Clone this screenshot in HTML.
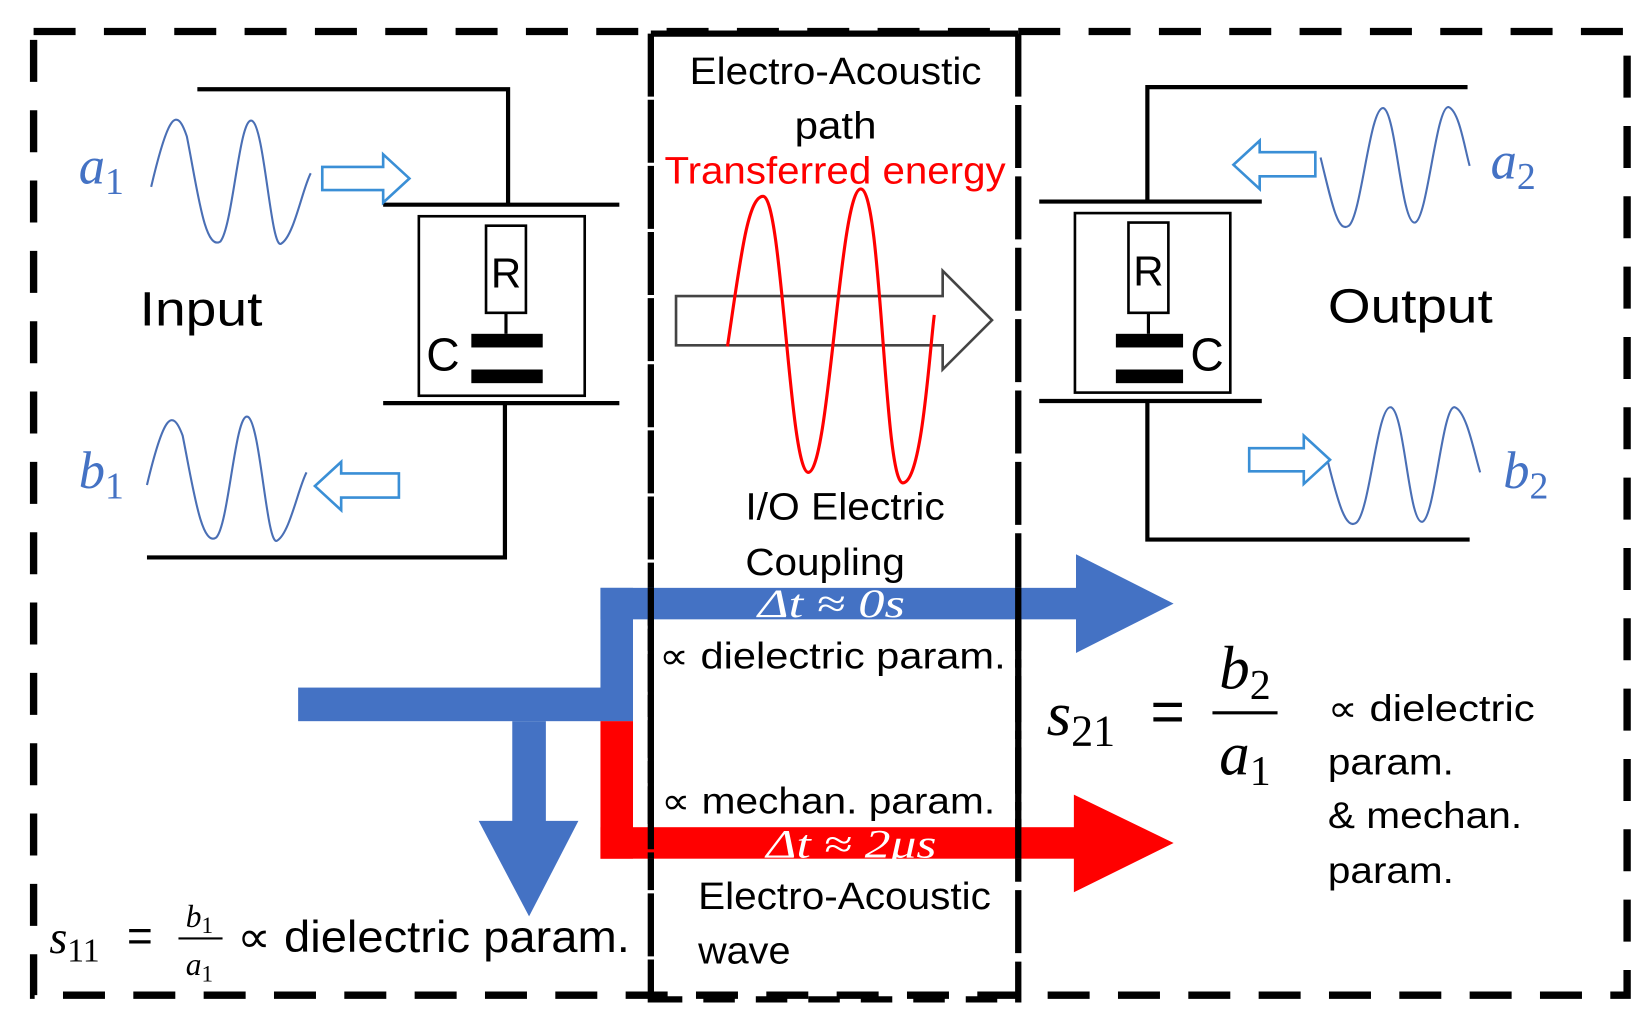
<!DOCTYPE html>
<html><head><meta charset="utf-8"><style>
html,body{margin:0;padding:0;background:#fff;}
svg{display:block;}
text{font-family:"Liberation Sans",sans-serif;}
.m{font-family:"Liberation Serif",serif;font-style:italic;}
</style></head><body>
<svg width="1646" height="1013" viewBox="0 0 1568 965" preserveAspectRatio="none" xmlns="http://www.w3.org/2000/svg">
<rect width="1568" height="965" fill="#fff"/>
<rect x="32" y="30" width="1518" height="918" fill="none" stroke="#000" stroke-width="7" stroke-dasharray="40 27"/>
<line x1="620" y1="32" x2="970" y2="32" stroke="#000" stroke-width="6"/>
<line x1="620" y1="32" x2="620" y2="955" stroke="#000" stroke-width="6" stroke-dasharray="60 3"/>
<line x1="970" y1="32" x2="970" y2="955" stroke="#000" stroke-width="6" stroke-dasharray="60 8"/>
<line x1="620" y1="952" x2="970" y2="952" stroke="#000" stroke-width="6" stroke-dasharray="30 20"/>

<g stroke="#000" stroke-width="4" fill="none">
<polyline points="188,85 484,85 484,195"/>
<line x1="365" y1="195" x2="590" y2="195"/>
<rect x="399" y="206" width="158" height="171" stroke-width="2.5"/>
<rect x="463" y="215" width="38" height="83" stroke-width="2.5"/>
<line x1="482" y1="298" x2="482" y2="318" stroke-width="3"/>
<line x1="365" y1="384" x2="590" y2="384"/>
<polyline points="481,384 481,531 140,531"/>
</g>
<rect x="449" y="318" width="68" height="13" fill="#000"/>
<rect x="449" y="352" width="68" height="13" fill="#000"/>
<text x="482" y="274" font-size="40" text-anchor="middle">R</text>
<text x="406" y="353" font-size="44">C</text>
<text x="133" y="310" font-size="46" textLength="117" lengthAdjust="spacingAndGlyphs">Input</text>

<g stroke="#000" stroke-width="4" fill="none">
<polyline points="1398,83 1093,83 1093,192"/>
<line x1="990" y1="192" x2="1202" y2="192"/>
<rect x="1024" y="203" width="148" height="171" stroke-width="2.5"/>
<rect x="1075" y="212" width="38" height="86" stroke-width="2.5"/>
<line x1="1094" y1="298" x2="1094" y2="318" stroke-width="3"/>
<line x1="990" y1="382" x2="1202" y2="382"/>
<polyline points="1093,382 1093,514 1400,514"/>
</g>
<rect x="1063" y="318" width="64" height="13" fill="#000"/>
<rect x="1063" y="352" width="64" height="13" fill="#000"/>
<text x="1094" y="272" font-size="40" text-anchor="middle">R</text>
<text x="1134" y="353" font-size="44">C</text>
<text x="1265" y="307" font-size="46" textLength="157" lengthAdjust="spacingAndGlyphs">Output</text>

<g fill="none" stroke="#4a6fb5" stroke-width="2">
<path d="M144,178 C160,110 168,100 178,130 C188,180 195,240 210,230 C222,215 228,110 240,115 C252,120 258,240 268,232 C280,225 288,180 296,165"/>
<path d="M140,462 C156,395 164,388 174,415 C184,465 192,522 206,512 C218,500 224,392 236,397 C248,402 254,522 264,515 C276,508 284,465 292,450"/>
<path d="M1258,150 C1270,200 1275,222 1285,215 C1297,205 1305,100 1318,103 C1330,108 1335,215 1348,212 C1360,208 1368,100 1380,102 C1390,106 1395,140 1400,158"/>
<path d="M1265,440 C1275,480 1282,505 1292,498 C1305,488 1312,385 1325,388 C1338,392 1342,500 1355,497 C1367,493 1374,385 1386,388 C1397,392 1404,430 1410,450"/>
</g>
<g fill="#fff" stroke="#3a8fd6" stroke-width="2.5">
<polygon points="307,159 365,159 365,147 390,170 365,193 365,181 307,181"/>
<polygon points="380,451 325,451 325,440 300,463 325,486 325,474 380,474"/>
<polygon points="1253,145 1200,145 1200,134 1175,157 1200,180 1200,168 1253,168"/>
<polygon points="1190,427 1242,427 1242,415 1267,438 1242,461 1242,449 1190,449"/>
</g>
<text x="75" y="175" font-size="50" fill="#4472c4" class="m">a<tspan font-size="36" dy="10" font-style="normal">1</tspan></text>
<text x="75" y="465" font-size="50" fill="#4472c4" class="m">b<tspan font-size="36" dy="10" font-style="normal">1</tspan></text>
<text x="1420" y="170" font-size="50" fill="#4472c4" class="m">a<tspan font-size="36" dy="10" font-style="normal">2</tspan></text>
<text x="1432" y="465" font-size="50" fill="#4472c4" class="m">b<tspan font-size="36" dy="10" font-style="normal">2</tspan></text>

<text x="657" y="80" font-size="36" textLength="278" lengthAdjust="spacingAndGlyphs">Electro-Acoustic</text>
<text x="757" y="132" font-size="36" textLength="78" lengthAdjust="spacingAndGlyphs">path</text>
<text x="633" y="175" font-size="36" fill="#f00" textLength="325" lengthAdjust="spacingAndGlyphs">Transferred energy</text>
<polygon points="644,282 898,282 898,258 945,305 898,352 898,329 644,329" fill="#fff" stroke="#444" stroke-width="2.5"/>
<path d="M693,330 C705,250 712,187 727,187 C745,187 752,450 770,450 C790,450 800,180 820,180 C840,180 842,460 860,460 C878,460 885,340 890,300" fill="none" stroke="#f00" stroke-width="3"/>
<text x="710" y="495" font-size="36" textLength="190" lengthAdjust="spacingAndGlyphs">I/O Electric</text>
<text x="710" y="548" font-size="36" textLength="152" lengthAdjust="spacingAndGlyphs">Coupling</text>

<g fill="#4472c4">
<rect x="284" y="655" width="319" height="32"/>
<rect x="572" y="560" width="31" height="127"/>
<rect x="572" y="560" width="455" height="30"/>
<polygon points="1025,528 1118,575 1025,622"/>
<rect x="488" y="687" width="32" height="98"/>
<polygon points="456,782 551,782 504,873"/>
</g>
<g fill="#f00">
<rect x="572" y="687" width="31" height="131"/>
<rect x="572" y="788" width="455" height="30"/>
<polygon points="1023,757 1118,803 1023,850"/>
</g>
<line x1="620" y1="560" x2="620" y2="818" stroke="#000" stroke-width="6" stroke-dasharray="60 3"/>
<line x1="970" y1="560" x2="970" y2="818" stroke="#000" stroke-width="6" stroke-dasharray="60 8"/>
<text x="722" y="588" font-size="38" fill="#fff" class="m" textLength="140" lengthAdjust="spacingAndGlyphs">Δt ≈ 0s</text>
<text x="730" y="817" font-size="38" fill="#fff" class="m" textLength="162" lengthAdjust="spacingAndGlyphs">Δt ≈ 2μs</text>
<text x="628" y="637" font-size="35" textLength="330" lengthAdjust="spacingAndGlyphs">∝ dielectric param.</text>
<text x="630" y="775" font-size="35" textLength="318" lengthAdjust="spacingAndGlyphs">∝ mechan. param.</text>
<text x="665" y="866" font-size="36" textLength="279" lengthAdjust="spacingAndGlyphs">Electro-Acoustic</text>
<text x="665" y="918" font-size="36" textLength="88" lengthAdjust="spacingAndGlyphs">wave</text>

<text x="997" y="700" font-size="60" class="m">s<tspan font-size="42" dy="10" font-style="normal">21</tspan></text>
<text x="1096" y="697" font-size="56" font-family="Liberation Serif">=</text>
<text x="1186" y="656" font-size="58" class="m" text-anchor="middle">b<tspan font-size="40" dy="10" font-style="normal">2</tspan></text>
<line x1="1155" y1="679" x2="1217" y2="679" stroke="#000" stroke-width="3"/>
<text x="1186" y="738" font-size="58" class="m" text-anchor="middle">a<tspan font-size="40" dy="10" font-style="normal">1</tspan></text>
<text x="1265" y="687" font-size="35" textLength="197" lengthAdjust="spacingAndGlyphs">∝ dielectric</text>
<text x="1265" y="738" font-size="35" textLength="120" lengthAdjust="spacingAndGlyphs">param.</text>
<text x="1265" y="789" font-size="35" textLength="185" lengthAdjust="spacingAndGlyphs">&amp; mechan.</text>
<text x="1265" y="841" font-size="35" textLength="120" lengthAdjust="spacingAndGlyphs">param.</text>

<text x="47" y="908" font-size="44" class="m">s<tspan font-size="32" dy="8" font-style="normal">11</tspan></text>
<text x="121" y="906" font-size="42" font-family="Liberation Serif">=</text>
<text x="190" y="883" font-size="30" class="m" text-anchor="middle">b<tspan font-size="22" dy="6" font-style="normal">1</tspan></text>
<line x1="170" y1="894" x2="212" y2="894" stroke="#000" stroke-width="2"/>
<text x="190" y="929" font-size="30" class="m" text-anchor="middle">a<tspan font-size="22" dy="6" font-style="normal">1</tspan></text>
<text x="226" y="907" font-size="42" textLength="374" lengthAdjust="spacingAndGlyphs">∝ dielectric param.</text>
</svg>
</body></html>
